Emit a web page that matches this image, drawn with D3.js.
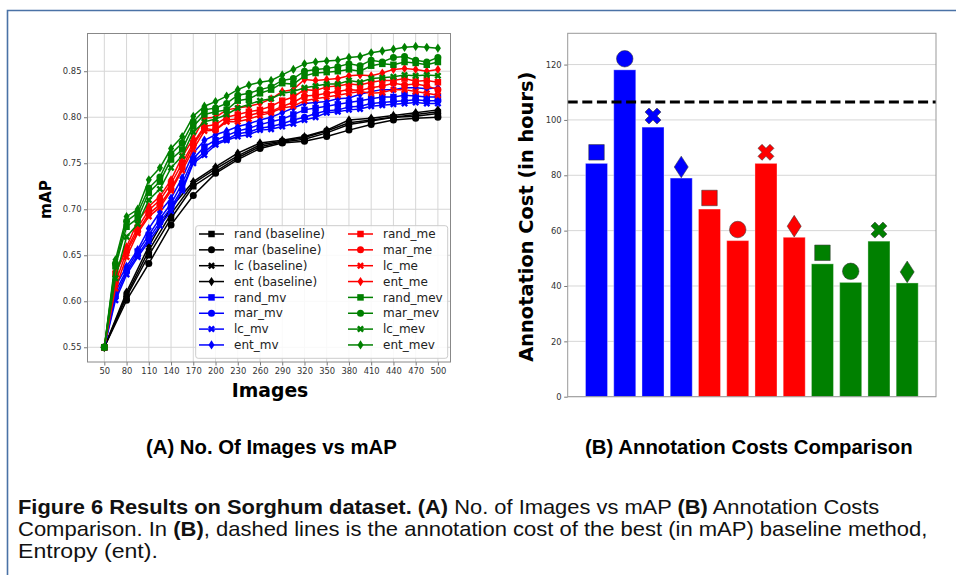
<!DOCTYPE html>
<html><head><meta charset="utf-8">
<script src="https://cdn.jsdelivr.net/npm/d3@7"></script>
<style>body{margin:0;background:#fff} svg{display:block}</style>
</head><body>
<svg id="c" width="956" height="575"></svg>
<script>
// ---------- DATA ----------
const imagesFine = [50,65,80,95,110,125,140,155,170,185,200,215,230,245,260,275,290,305,320,335,350,365,380,395,410,425,440,455,470,485,500];
const imagesBase = [50,80,110,140,170,200,230,260,290,320,350,380,410,440,470,500];
const xTicks = [50,80,110,140,170,200,230,260,290,320,350,380,410,440,470,500];
const yTicksMap = [0.55,0.60,0.65,0.70,0.75,0.80,0.85];

const rand_base = [.55,.605,.650,.690,.725,.741,.756,.768,.773,.776,.783,.792,.796,.800,.801,.804];
const mar_base  = [.55,.601,.641,.683,.715,.739,.754,.766,.772,.774,.779,.786,.792,.797,.799,.800];
const lc_base   = [.55,.607,.655,.695,.728,.744,.758,.770,.774,.778,.785,.794,.797,.800,.803,.806];
const ent_base  = [.55,.610,.660,.702,.730,.746,.761,.772,.775,.779,.786,.797,.799,.802,.805,.808];

const rand_mv = [.55,.610,.634,.654,.672,.690,.706,.728,.755,.768,.775,.780,.785,.788,.792,.795,.798,.803,.808,.810,.812,.814,.816,.818,.820,.822,.822,.824,.823,.822,.822];
const mar_mv  = [.55,.605,.632,.650,.668,.686,.702,.722,.752,.762,.772,.776,.782,.784,.788,.790,.793,.797,.800,.804,.807,.808,.811,.812,.815,.816,.817,.818,.819,.818,.818];
const lc_mv   = [.55,.601,.629,.648,.665,.682,.698,.720,.750,.759,.770,.775,.779,.781,.786,.787,.790,.793,.797,.800,.805,.806,.808,.809,.812,.813,.814,.815,.816,.815,.815];
const ent_mv  = [.55,.616,.638,.656,.679,.697,.712,.734,.761,.775,.781,.785,.790,.793,.797,.800,.805,.810,.815,.816,.817,.820,.821,.825,.828,.830,.830,.832,.832,.831,.832];

const rand_me = [.55,.630,.656,.680,.699,.710,.728,.750,.772,.790,.792,.800,.803,.806,.808,.812,.818,.822,.830,.829,.833,.834,.836,.835,.838,.840,.840,.842,.839,.840,.838];
const mar_me  = [.55,.620,.654,.676,.695,.705,.722,.745,.770,.788,.786,.797,.798,.802,.805,.806,.812,.816,.823,.824,.826,.828,.830,.829,.832,.834,.837,.835,.836,.834,.830];
const lc_me   = [.55,.614,.648,.674,.692,.702,.720,.742,.765,.785,.786,.795,.795,.798,.802,.805,.810,.812,.818,.820,.822,.824,.826,.828,.826,.827,.830,.830,.828,.826,.824];
const ent_me  = [.55,.632,.659,.687,.703,.714,.732,.757,.777,.799,.800,.808,.810,.812,.815,.820,.828,.830,.841,.840,.841,.842,.845,.846,.845,.848,.852,.853,.852,.850,.852];

const rand_mev = [.55,.638,.681,.690,.718,.730,.754,.765,.790,.803,.806,.808,.818,.820,.826,.830,.837,.836,.845,.848,.849,.850,.852,.850,.856,.858,.857,.860,.859,.857,.860];
const mar_mev  = [.55,.641,.687,.696,.723,.735,.760,.772,.795,.808,.810,.815,.824,.826,.830,.833,.840,.842,.850,.852,.853,.855,.858,.856,.862,.860,.865,.866,.862,.860,.865];
const lc_mev   = [.55,.625,.670,.684,.710,.722,.745,.758,.784,.795,.798,.803,.810,.814,.818,.820,.826,.828,.832,.834,.836,.836,.840,.838,.842,.843,.844,.846,.845,.846,.845];
const ent_mev  = [.55,.645,.692,.700,.732,.745,.766,.779,.801,.812,.817,.823,.830,.835,.838,.840,.846,.852,.858,.860,.861,.862,.865,.866,.870,.872,.874,.876,.877,.876,.875];

const costMethods = ["rand_mv","mar_mv","lc_mv","ent_mv","rand_me","mar_me","lc_me","ent_me","rand_mev","mar_mev","lc_mev","ent_mev"];
const costHours   = [84.3,118.1,97.4,79.0,67.8,56.4,84.3,57.6,48.0,41.3,56.2,41.1];
const baselineCost = 106.5;
const yTicksCost = [0,20,40,60,80,100,120];

// ---------- series table ----------
const BLUE="#0000ff", RED="#ff0000", GREEN="#008000", BLACK="#000000";
const series = [
  {name:"rand (baseline)", x:imagesBase, y:rand_base, c:BLACK, m:"square"},
  {name:"mar (baseline)",  x:imagesBase, y:mar_base,  c:BLACK, m:"circle"},
  {name:"lc (baseline)",   x:imagesBase, y:lc_base,   c:BLACK, m:"x"},
  {name:"ent (baseline)",  x:imagesBase, y:ent_base,  c:BLACK, m:"diamond"},
  {name:"rand_mv", x:imagesFine, y:rand_mv, c:BLUE, m:"square"},
  {name:"mar_mv",  x:imagesFine, y:mar_mv,  c:BLUE, m:"circle"},
  {name:"lc_mv",   x:imagesFine, y:lc_mv,   c:BLUE, m:"x"},
  {name:"ent_mv",  x:imagesFine, y:ent_mv,  c:BLUE, m:"diamond"},
  {name:"rand_me", x:imagesFine, y:rand_me, c:RED, m:"square"},
  {name:"mar_me",  x:imagesFine, y:mar_me,  c:RED, m:"circle"},
  {name:"lc_me",   x:imagesFine, y:lc_me,   c:RED, m:"x"},
  {name:"ent_me",  x:imagesFine, y:ent_me,  c:RED, m:"diamond"},
  {name:"rand_mev", x:imagesFine, y:rand_mev, c:GREEN, m:"square"},
  {name:"mar_mev",  x:imagesFine, y:mar_mev,  c:GREEN, m:"circle"},
  {name:"lc_mev",   x:imagesFine, y:lc_mev,   c:GREEN, m:"x"},
  {name:"ent_mev",  x:imagesFine, y:ent_mev,  c:GREEN, m:"diamond"}
];
const costColors = [BLUE,BLUE,BLUE,BLUE,RED,RED,RED,RED,GREEN,GREEN,GREEN,GREEN];
const costMarkers = ["square","circle","x","diamond","square","circle","x","diamond","square","circle","x","diamond"];

// ---------- helpers ----------
function markerPath(type, s){
  if(type==="square") return d3.symbol(d3.symbolSquare, s*s)();
  if(type==="circle") return d3.symbol(d3.symbolCircle, Math.PI*(s/2)*(s/2))();
  if(type==="x"){ const r=s/5.66; return d3.symbol(d3.symbolCross, 20*r*r)(); }
  if(type==="diamond"){ const h=s*0.62, w=s*0.4; return `M0,${-h}L${w},0L0,${h}L${-w},0Z`; }
}
function markerTransform(type,x,y){ return `translate(${x},${y})` + (type==="x"?" rotate(45)":""); }
const smallSize = m => m==="square"?6.5:(m==="circle"?7:(m==="x"?7:7.5));

const svg = d3.select("#c");
const FONT = "'DejaVu Sans', sans-serif";
const TICKFS = "8.4px";

// figure frame
svg.append("path").attr("d","M7.5,575V10.5H956").attr("fill","none").attr("stroke","#4a72a6").attr("stroke-width",1.6);

// ---------- LEFT CHART ----------
const L = {l:87.5, r:450.5, t:33.5, b:362};
const xL = d3.scaleLinear().domain([27.3,517]).range([L.l,L.r]);
const yL = d3.scaleLinear().domain([0.534,0.891]).range([L.b,L.t]);
const gL = svg.append("g");
gL.append("g").selectAll("line").data(xTicks).join("line")
  .attr("x1",d=>xL(d)).attr("x2",d=>xL(d)).attr("y1",L.t).attr("y2",L.b)
  .attr("stroke","#d6d6d6").attr("stroke-width",1);
gL.append("g").selectAll("line").data(yTicksMap).join("line")
  .attr("x1",L.l).attr("x2",L.r).attr("y1",d=>yL(d)).attr("y2",d=>yL(d))
  .attr("stroke","#d6d6d6").attr("stroke-width",1);
const axXL = gL.append("g").attr("transform",`translate(0,${L.b})`)
  .call(d3.axisBottom(xL).tickValues(xTicks).tickSize(3.5).tickPadding(2.5).tickFormat(d3.format("d")));
const axYL = gL.append("g").attr("transform",`translate(${L.l},0)`)
  .call(d3.axisLeft(yL).tickValues(yTicksMap).tickSize(3.5).tickPadding(2.5).tickFormat(d3.format(".2f")));
[axXL,axYL].forEach(a=>{
  a.select(".domain").remove();
  a.selectAll(".tick line").attr("stroke","#555").attr("stroke-width",0.8);
  a.selectAll(".tick text").attr("fill","#333").style("font-family",FONT).style("font-size",TICKFS);
});
const line = d3.line();
series.forEach(s=>{
  const pts = s.x.map((xv,i)=>[xL(xv), yL(s.y[i])]);
  gL.append("path").attr("d",line(pts)).attr("fill","none").attr("stroke",s.c).attr("stroke-width",1.5);
  gL.append("g").selectAll("path").data(pts).join("path")
    .attr("d",markerPath(s.m, smallSize(s.m)))
    .attr("transform",d=>markerTransform(s.m,d[0],d[1]))
    .attr("fill",s.c);
});
gL.append("rect").attr("x",L.l).attr("y",L.t).attr("width",L.r-L.l).attr("height",L.b-L.t)
  .attr("fill","none").attr("stroke","#888").attr("stroke-width",1);
// legend
const lg = gL.append("g");
lg.append("rect").attr("x",195.7).attr("y",225.7).attr("width",252).attr("height",132.6).attr("rx",2.5)
  .attr("fill","#fff").attr("fill-opacity",0.85).attr("stroke","#cccccc").attr("stroke-width",1);
series.forEach((s,i)=>{
  const col = Math.floor(i/8), row = i%8;
  const x0 = col===0?199:348, y0 = 234 + row*15.85;
  lg.append("line").attr("x1",x0).attr("x2",x0+25).attr("y1",y0).attr("y2",y0).attr("stroke",s.c).attr("stroke-width",1.5);
  lg.append("path").attr("d",markerPath(s.m, smallSize(s.m)))
    .attr("transform",markerTransform(s.m,x0+12.5,y0)).attr("fill",s.c);
  lg.append("text").attr("x",x0+35).attr("y",y0).attr("dy","0.35em").text(s.name)
    .style("font-family",FONT).style("font-size","12px").attr("fill","#222");
});
svg.append("text").attr("x",270).attr("y",397).attr("text-anchor","middle").text("Images")
  .style("font-family",FONT).style("font-weight","bold").style("font-size","18.8px");
svg.append("text").attr("transform","translate(51,199.5) rotate(-90)").attr("text-anchor","middle").text("mAP")
  .style("font-family",FONT).style("font-weight","bold").style("font-size","15.3px");

// ---------- RIGHT CHART ----------
const R = {l:567.7, r:936, t:33.3, b:396.7};
const xR = d3.scaleBand().domain(costMethods).range([R.l,R.r]).paddingInner(0.22).paddingOuter(0.63);
const yR = d3.scaleLinear().domain([0,131.3]).range([R.b,R.t]);
const gR = svg.append("g");
gR.append("g").selectAll("line").data(yTicksCost).join("line")
  .attr("x1",R.l).attr("x2",R.r).attr("y1",d=>yR(d)).attr("y2",d=>yR(d))
  .attr("stroke","#d6d6d6").attr("stroke-width",1);
const axYR = gR.append("g").attr("transform",`translate(${R.l},0)`)
  .call(d3.axisLeft(yR).tickValues(yTicksCost).tickSize(3.5).tickPadding(2.5));
axYR.select(".domain").remove();
axYR.selectAll(".tick line").attr("stroke","#555").attr("stroke-width",0.8);
axYR.selectAll(".tick text").attr("fill","#333").style("font-family",FONT).style("font-size",TICKFS);
gR.append("g").selectAll("rect").data(costMethods).join("rect")
  .attr("x",d=>xR(d)).attr("width",xR.bandwidth())
  .attr("y",(d,i)=>yR(costHours[i])).attr("height",(d,i)=>R.b-yR(costHours[i]))
  .attr("fill",(d,i)=>costColors[i]).attr("stroke","#ffffff").attr("stroke-opacity",0.35).attr("stroke-width",1);
gR.append("g").selectAll("path").data(costMethods).join("path")
  .attr("d",(d,i)=>{const m=costMarkers[i]; return markerPath(m, m==="square"?15.5:(m==="circle"?16.5:(m==="x"?16:17.5)));})
  .attr("transform",(d,i)=>markerTransform(costMarkers[i], xR(d)+xR.bandwidth()/2, yR(costHours[i]+4)))
  .attr("fill",(d,i)=>costColors[i]).attr("stroke","#333").attr("stroke-opacity",0.6).attr("stroke-width",0.9);
gR.append("line").attr("x1",R.l).attr("x2",R.r).attr("y1",yR(baselineCost)).attr("y2",yR(baselineCost))
  .attr("stroke","#000").attr("stroke-width",3).attr("stroke-dasharray","10,4.6");
gR.append("rect").attr("x",R.l).attr("y",R.t).attr("width",R.r-R.l).attr("height",R.b-R.t)
  .attr("fill","none").attr("stroke","#999").attr("stroke-width",1);
svg.append("text").attr("transform","translate(533,216.7) rotate(-90)").attr("text-anchor","middle")
  .text("Annotation Cost (in hours)")
  .style("font-family",FONT).style("font-weight","bold").style("font-size","19.4px");

// ---------- TITLES & CAPTION ----------
function fitText(sel, x, target){
  const w = sel.node().getBBox().width;
  const y = +sel.attr("data-y");
  sel.attr("transform",`translate(${x},${y}) scale(${target/w},1)`);
}
const SANS = "'Liberation Sans', Arial, sans-serif";
const subA = svg.append("text").attr("data-y",454).style("font-family",SANS).style("font-weight","bold").style("font-size","19.5px").text("(A) No. Of Images vs mAP");
fitText(subA,146,251);
const subB = svg.append("text").attr("data-y",454).style("font-family",SANS).style("font-weight","bold").style("font-size","19.5px").text("(B) Annotation Costs Comparison");
fitText(subB,585,328);

const capLines = [
  {y:514, w:862, parts:[["Figure 6 Results on Sorghum dataset.",1],[" (A)",1],[" No. of Images vs mAP ",0],["(B)",1],[" Annotation Costs",0]]},
  {y:536, w:910, parts:[["Comparison. In ",0],["(B)",1],[", dashed lines is the annotation cost of the best (in mAP) baseline method,",0]]},
  {y:558, w:140, parts:[["Entropy (ent).",0]]}
];
capLines.forEach(cl=>{
  const t = svg.append("text").attr("data-y",cl.y).style("font-family",SANS).style("font-size","20.5px").attr("fill","#111");
  cl.parts.forEach(p=>t.append("tspan").text(p[0]).style("font-weight",p[1]?"bold":"normal").style("white-space","pre"));
  fitText(t,18,cl.w);
});
</script>
</body></html>
